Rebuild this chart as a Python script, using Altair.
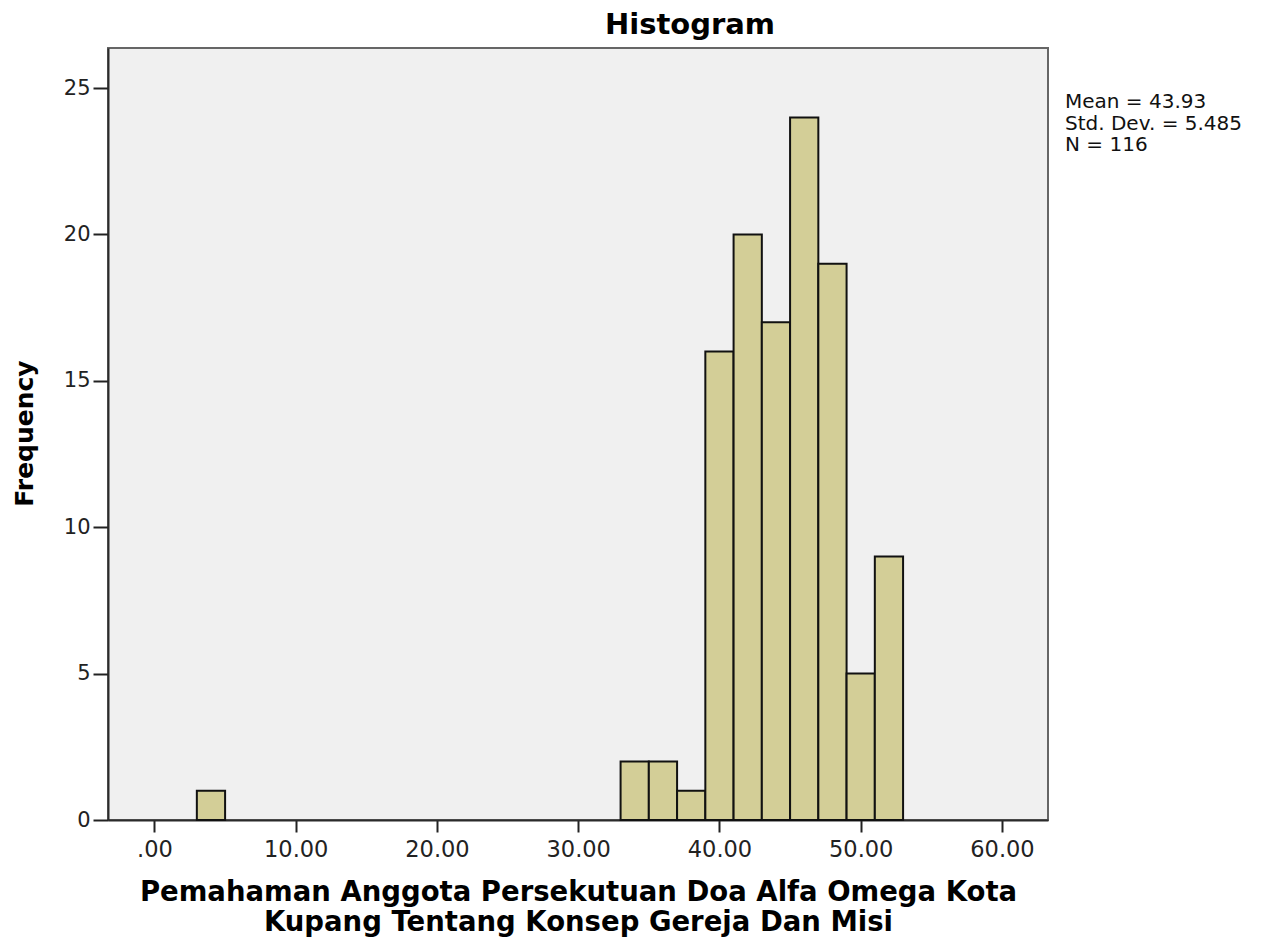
import altair as alt
import pandas as pd

# Histogram bins (lower edge, upper edge) and frequencies
bin_start = [3, 33, 35, 37, 39, 41, 43, 45, 47, 49, 51]
bin_end = [5, 35, 37, 39, 41, 43, 45, 47, 49, 51, 53]
frequency = [1, 2, 2, 1, 16, 20, 17, 24, 19, 5, 9]

x_ticks = [0, 10, 20, 30, 40, 50, 60]
y_ticks = [0, 5, 10, 15, 20, 25]

chart_title = ["Histogram"]
stats_lines = ["Mean = 43.93", "Std. Dev. = 5.485", "N = 116"]
x_title = ["Pemahaman Anggota Persekutuan Doa Alfa Omega Kota",
           "Kupang Tentang Konsep Gereja Dan Misi"]
y_title = "Frequency"

df = pd.DataFrame({"start": bin_start, "end": bin_end, "freq": frequency})

x_scale = alt.Scale(domain=[-3.29, 63.26], nice=False, zero=False)
y_scale = alt.Scale(domain=[0, 26.37], nice=False)

bars = alt.Chart(df).mark_rect(
    fill="#D3CE97", stroke="#111111", strokeWidth=2
).encode(
    x=alt.X("start:Q", scale=x_scale,
            axis=alt.Axis(values=x_ticks, title=x_title,
                          labelExpr="datum.value == 0 ? '.00' : format(datum.value, '.2f')",
                          labelFont="DejaVu Sans", labelFontSize=22.5, labelColor="#222222",
                          labelPadding=6, tickSize=12, tickWidth=2, tickColor="#222222",
                          domainColor="#2b2b2b", domainWidth=2, grid=False,
                          titleFont="DejaVu Sans", titleFontWeight="bold", titleFontSize=27.5,
                          titleColor="#000000", titleLineHeight=30, titleBaseline="top",
                          titleY=58, titleX=470, titleAlign="center")),
    x2="end:Q",
    y=alt.Y("freq:Q", scale=y_scale,
            axis=alt.Axis(values=y_ticks, title=y_title, format="d",
                          labelFont="DejaVu Sans", labelFontSize=21, labelColor="#222222",
                          labelPadding=3, tickSize=15, tickWidth=2, tickColor="#222222",
                          domainColor="#2b2b2b", domainWidth=2, grid=False,
                          titleFont="DejaVu Sans", titleFontWeight="bold", titleFontSize=25,
                          titleColor="#000000", titleAngle=-90, titleBaseline="middle",
                          titleAlign="center", titleX=-84, titleY=385)),
    y2=alt.datum(0),
)

title_df = pd.DataFrame({"t": chart_title})
title_mark = alt.Chart(title_df).mark_text(
    font="DejaVu Sans", fontWeight="bold", fontSize=29, color="#000000",
    align="center", baseline="alphabetic"
).encode(text="t:N", x=alt.value(582), y=alt.value(-14))

stats_df = pd.DataFrame({"t": [stats_lines]})
stats_mark = alt.Chart(stats_df).mark_text(
    font="DejaVu Sans", fontSize=20, color="#111111", align="left",
    baseline="alphabetic", lineHeight=21.7
).encode(text="t", x=alt.value(957), y=alt.value(60))

chart = alt.layer(bars, title_mark, stats_mark).properties(
    width=940, height=772,
    autosize=alt.AutoSizeParams(type="none"),
    padding={"left": 100, "top": 40, "right": 212, "bottom": 122},
    background="#ffffff",
).configure_view(
    fill="#F0F0F0", stroke="#666666", strokeWidth=2
)

chart.save("out.html", embed_options={"renderer": "svg", "actions": False})
